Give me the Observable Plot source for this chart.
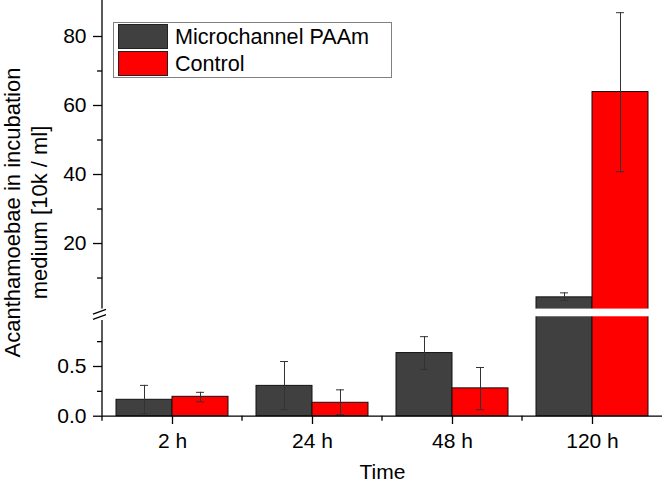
<!DOCTYPE html>
<html>
<head>
<meta charset="utf-8">
<script src="https://cdn.jsdelivr.net/npm/d3@7"></script>
<script src="https://cdn.jsdelivr.net/npm/@observablehq/plot@0.6"></script>
<style>
  body { margin: 0; background: #fff; }
  #chart { width: 666px; height: 486px; }
</style>
</head>
<body>
<div id="chart"></div>
<script>
// ---- data ----
const times = ["2 h", "24 h", "48 h", "120 h"];
const series = ["Microchannel PAAm", "Control"];
const colors = ["#404040", "#ff0000"];
const paamMean = [0.165, 0.305, 0.635, 4.4];
const paamLow  = [0.025, 0.065, 0.47, 3.5];
const paamHigh = [0.31, 0.55, 0.80, 5.7];
const ctrlMean = [0.195, 0.135, 0.28, 63.9];
const ctrlLow  = [0.145, 0.015, 0.065, 40.8];
const ctrlHigh = [0.24, 0.265, 0.49, 86.9];
const yMajorTicks = [0, 0.5, 20, 40, 60, 80];
const yMinorTicks = [0.25, 0.75, 10, 30, 50, 70];
const breakLow = 1;       // top of lower segment
const breakHigh = 1.0001; // bottom of upper segment
const yTop = 90.43;

// broken-axis transform: lower segment [0,1] and upper segment [1,yTop]
const lowerSpan = 99.4, gapSpan = 7.7, upperUnit = 3.45;
const brokenY = v => v <= breakLow ? v * lowerSpan
  : v < breakHigh ? lowerSpan + (v - breakLow) / (breakHigh - breakLow) * gapSpan
  : lowerSpan + gapSpan + (v - breakHigh) * upperUnit;

const grey = times.map((t, i) => ({time: t, mean: paamMean[i], low: paamLow[i], high: paamHigh[i]}));
const red  = times.map((t, i) => ({time: t, mean: ctrlMean[i], low: ctrlLow[i], high: ctrlHigh[i]}));
const broken = grey.concat(red).filter(d => d.mean > breakHigh).map(d => d.time).filter((v, i, a) => a.indexOf(v) === i);

const fmt = d => d < 1 ? d.toFixed(1) : String(d);
const errColor = "#333";

// custom decoration: y-axis line with break symbol + minor x ticks
function axisDecor(index, scales, values, dims) {
  const g = d3.create("svg:g").attr("stroke", "black").attr("fill", "none").attr("stroke-width", 1.3);
  const x0 = dims.marginLeft;
  const y0 = scales.y(brokenY(0));
  const mid = (scales.y(brokenY(breakLow)) + scales.y(brokenY(breakHigh))) / 2;
  g.append("line").attr("x1", x0).attr("x2", x0).attr("y1", dims.marginTop).attr("y2", mid - 4);
  g.append("line").attr("x1", x0).attr("x2", x0).attr("y1", mid + 7.5).attr("y2", y0);
  g.append("line").attr("x1", x0 - 9).attr("x2", x0 + 4).attr("y1", mid + 1.8).attr("y2", mid - 3);
  g.append("line").attr("x1", x0 - 9).attr("x2", x0 + 4).attr("y1", mid + 7).attr("y2", mid + 2.3);
  for (const t of times) {
    const xs = scales.x(t);
    g.append("line").attr("x1", xs).attr("x2", xs).attr("y1", y0).attr("y2", y0 + 5);
  }
  return g.node();
}

function legend(index, scales, values, dims) {
  const g = d3.create("svg:g").attr("text-anchor", "start");
  g.append("rect").attr("x", 113.5).attr("y", 22.5).attr("width", 278).attr("height", 55)
    .attr("fill", "white").attr("stroke", "#808080").attr("stroke-width", 1);
  series.forEach((s, i) => {
    const y = 24 + i * 27;
    g.append("rect").attr("x", 118.5).attr("y", y + 0.5).attr("width", 49).attr("height", 24)
      .attr("fill", colors[i]).attr("stroke", "#222").attr("stroke-width", 1);
    g.append("text").attr("x", 175).attr("y", y + 12.5).attr("dy", "0.35em")
      .attr("font-size", 21.6).attr("fill", "black").attr("text-anchor", "start").text(s);
  });
  return g.node();
}

const chart = Plot.plot({
  width: 666,
  height: 486,
  marginLeft: 102,
  marginRight: 4,
  marginTop: 0,
  marginBottom: 70,
  style: {fontFamily: "'Liberation Sans', Arial, sans-serif", fontSize: "21px", color: "black", background: "white", overflow: "visible"},
  x: {domain: times, padding: 0, label: null},
  y: {transform: brokenY, domain: [brokenY(0), brokenY(yTop)], range: [415.7, 0], label: null},
  marks: [
    Plot.barY(grey, {x: "time", y1: 0, y2: "mean", fill: colors[0], stroke: "#111", strokeWidth: 1, insetLeft: 14, insetRight: 70}),
    Plot.barY(red, {x: "time", y1: 0, y2: "mean", fill: colors[1], stroke: "#111", strokeWidth: 1, insetLeft: 70, insetRight: 14}),
    Plot.barY(broken, {x: d => d, y1: breakLow, y2: breakHigh, fill: "white", insetLeft: 12, insetRight: 12}),
    Plot.ruleX(grey, {x: "time", y1: "low", y2: "high", dx: -28, stroke: errColor, strokeWidth: 1}),
    Plot.tickY(grey, {x: "time", y: "high", insetLeft: 38, insetRight: 94, stroke: errColor, strokeWidth: 1}),
    Plot.tickY(grey, {x: "time", y: "low", insetLeft: 38, insetRight: 94, stroke: errColor, strokeWidth: 1}),
    Plot.ruleX(red, {x: "time", y1: "low", y2: "high", dx: 28, stroke: errColor, strokeWidth: 1}),
    Plot.tickY(red, {x: "time", y: "high", insetLeft: 94, insetRight: 38, stroke: errColor, strokeWidth: 1}),
    Plot.tickY(red, {x: "time", y: "low", insetLeft: 94, insetRight: 38, stroke: errColor, strokeWidth: 1}),
    Plot.ruleY([0], {stroke: "black", strokeWidth: 1.3}),
    Plot.axisY(yMajorTicks, {tickSize: 9, tickPadding: 7, tickFormat: fmt, label: null, fontSize: 21, strokeWidth: 1.3}),
    Plot.axisY(yMinorTicks, {tickSize: 5, tickFormat: () => "", label: null, strokeWidth: 1.3}),
    Plot.axisX({tickSize: 8, tickPadding: 9, label: null, fontSize: 21, strokeWidth: 1.3}),
    axisDecor,
    legend,
    Plot.text(["Time"], {frameAnchor: "bottom", dy: 62.6, fontSize: 21, fill: "black"}),
    Plot.text(["Acanthamoebae in incubation\nmedium [10k / ml]"], {frameAnchor: "left", textAnchor: "middle", rotate: -90, dx: -77.2, dy: 4, fontSize: 22, lineHeight: 1.23, fill: "black"})
  ]
});
document.getElementById("chart").appendChild(chart);
</script>
</body>
</html>
